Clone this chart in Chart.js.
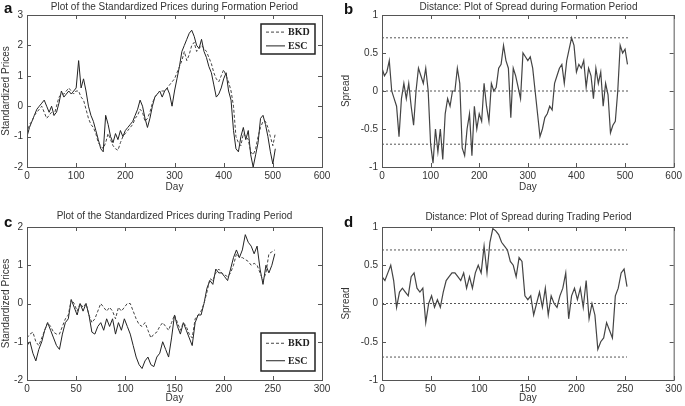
<!DOCTYPE html>
<html>
<head>
<meta charset="utf-8">
<script src="https://cdn.jsdelivr.net/npm/chart.js@4/dist/chart.umd.min.js"></script>
<style>
  html, body { margin: 0; padding: 0; background: #fff; }
  #wrap { position: relative; width: 685px; height: 406px; overflow: hidden; font-family: "Liberation Sans", Arial, sans-serif; }
  canvas { position: absolute; }
  .ttl { position: absolute; font-size: 10px; color: #333; text-align: center; white-space: nowrap; }
  .lt { position: absolute; font-size: 15px; font-weight: bold; color: #111; }
</style>
</head>
<body>
<div id="wrap">
  <canvas id="ca" width="340" height="200" style="left:0;top:0"></canvas>
  <canvas id="cb" width="345" height="200" style="left:340px;top:0"></canvas>
  <canvas id="cc" width="340" height="206" style="left:0;top:200px"></canvas>
  <canvas id="cd" width="345" height="206" style="left:340px;top:200px"></canvas>
  <div class="lt" style="left:4px;top:-1px">a</div>
  <div class="lt" style="left:344px;top:0px">b</div>
  <div class="lt" style="left:4px;top:213px">c</div>
  <div class="lt" style="left:344px;top:213px">d</div>
  <div class="ttl" style="left:27px;width:295px;top:1px">Plot of the Standardized Prices during Formation Period</div>
  <div class="ttl" style="left:382px;width:293px;top:1px">Distance: Plot of Spread during Formation Period</div>
  <div class="ttl" style="left:27px;width:295px;top:210px">Plot of the Standardized Prices during Trading Period</div>
  <div class="ttl" style="left:382px;width:293px;top:211px">Distance: Plot of Spread during Trading Period</div>
</div>
<script>
// sampling days (every 5 days in formation, every 3 days in trading)
const formationDays = Array.from({ length: 102 }, (_, i) => i * 5);
const tradingDays = Array.from({ length: 85 }, (_, i) => i * 3);
const formationEnd = 508;
const tradingEnd = 252;
const thresholds = [0.7, 0, -0.7];
const seriesNames = ['BKD', 'ESC'];

// panel a - standardized prices, formation period
const bkdFormation = [
  -0.9, -0.6, -0.5, -0.3, -0.2, -0.1, 0.0, -0.2, -0.4, -0.3,
  -0.2, -0.3, 0.0, 0.3, 0.4, 0.4, 0.5, 0.6, 0.5, 0.4,
  0.5, 0.5, 0.3, 0.2, -0.1, -0.4, -0.6, -0.7, -0.9, -1.2,
  -1.3, -1.4, -1.2, -0.9, -1.1, -1.3, -1.4, -1.45, -1.2, -1.0,
  -0.9, -0.8, -0.7, -0.6, -0.4, -0.3, -0.1, -0.2, -0.5, -0.4,
  -0.2, 0.1, 0.3, 0.4, 0.5, 0.5, 0.5, 0.6, 0.7, 0.8,
  0.9, 1.1, 1.3, 1.5, 1.8, 1.5, 1.7, 2.0, 2.1, 1.8,
  1.9, 2.0, 1.9, 1.8, 1.6, 1.4, 1.1, 0.9, 0.8, 1.0,
  1.2, 1.0, 0.8, 0.5, 0.0, -1.0, -1.2, -1.3, -0.9, -1.0,
  -1.1, -1.5, -1.6, -1.4, -1.0, -0.7, -0.5, -0.5, -0.7, -1.0,
  -1.3, -0.9
];
const escFormation = [
  -1.0, -0.7, -0.5, -0.3, -0.1, 0.0, 0.1, 0.2, 0.0, -0.2,
  0.0, -0.3, -0.2, 0.1, 0.5, 0.3, 0.4, 0.5, 0.4, 0.5,
  0.6, 1.5, 0.6, 0.9, 0.5, 0.0, -0.3, -0.5, -0.8, -1.1,
  -1.4, -1.5, -0.3, -0.6, -1.0, -1.2, -0.9, -1.1, -0.8, -1.0,
  -0.8, -0.7, -0.6, -0.5, -0.3, -0.1, 0.2, 0.0, -0.4, -0.7,
  -0.4, 0.0, 0.3, 0.4, 0.5, 0.3, 0.5, 0.6, 0.4, 0.0,
  0.5, 0.9, 1.3, 1.8, 2.0, 2.2, 2.4, 2.5, 2.3, 2.0,
  1.9, 2.2, 1.8, 1.6, 1.3, 1.1, 0.7, 0.3, 0.4, 0.6,
  0.9, 1.1, 0.5, 0.2, -0.8, -1.4, -1.5, -1.0, -0.7, -1.1,
  -0.8, -1.6, -2.0, -1.6, -1.2, -0.4, -0.3, -0.6, -1.0, -1.5,
  -1.9, -1.4
];

// panel b - spread, formation period
const spreadFormation = [
  0.3, 0.2, 0.25, 0.4, 0.0, -0.1, -0.2, -0.6, -0.1, 0.1,
  -0.1, 0.1, -0.2, -0.45, 0.0, 0.3, 0.2, 0.1, 0.3, 0.0,
  -0.7, -0.95, -0.5, -0.8, -0.5, -0.9, -0.3, -0.1, -0.2, 0.0,
  0.0, 0.3, 0.1, -0.75, -0.85, -0.5, -0.3, -0.85, -0.2, -0.5,
  -0.3, -0.4, 0.1, -0.2, -0.4, 0.1, 0.0, 0.05, 0.3, 0.35,
  0.6, 0.4, 0.3, -0.35, 0.3, 0.2, 0.05, -0.1, 0.5, 0.45,
  0.4, 0.45, 0.3, 0.0, -0.3, -0.6, -0.5, -0.35, -0.3, -0.2,
  -0.25, 0.1, 0.2, 0.3, 0.35, 0.1, 0.4, 0.55, 0.7, 0.6,
  0.25, 0.35, 0.3, 0.4, 0.05, 0.3, 0.2, -0.1, 0.3, 0.1,
  0.25, -0.2, 0.1, -0.05, -0.55, -0.45, -0.4, 0.0, 0.6, 0.5,
  0.55, 0.35
];

// panel c - standardized prices, trading period
const bkdTrading = [
  -0.9, -0.8, -0.75, -1.0, -1.1, -0.9, -0.7, -0.5, -0.6, -0.75,
  -0.8, -0.8, -0.6, -0.4, -0.3, 0.1, 0.0, -0.2, 0.0, -0.1,
  0.0, -0.3, -0.5, -0.4, -0.2, 0.0, -0.1, -0.2, -0.1, -0.2,
  -0.4, -0.1, -0.2, -0.1, 0.0, 0.0, -0.2, -0.4, -0.55, -0.6,
  -0.5, -0.7, -0.9, -0.8, -0.75, -0.6, -0.5, -0.6, -0.7, -0.5,
  -0.3, -0.5, -0.7, -0.5, -0.6, -0.8, -0.9, -0.4, -0.3, -0.2,
  0.0, 0.3, 0.65, 0.6, 0.8, 0.9, 0.8, 0.75, 0.7, 0.8,
  1.0, 1.3, 1.2, 1.2, 1.15, 1.1, 1.0, 1.05, 1.0, 0.8,
  0.6, 0.8, 1.3, 1.35, 1.4
];
const escTrading = [
  -1.1, -1.0, -1.3, -1.5, -1.2, -1.0, -0.7, -0.5, -0.7, -0.9,
  -1.1, -1.2, -0.8, -0.5, -0.4, 0.1, -0.1, -0.3, 0.0, -0.2,
  0.0, -0.3, -0.75, -0.8, -0.6, -0.5, -0.7, -0.4, -0.6, -0.4,
  -0.8, -0.5, -0.7, -0.4, -0.6, -0.8, -1.1, -1.4, -1.6, -1.7,
  -1.5, -1.4, -1.6, -1.65, -1.4, -1.3, -1.0, -1.2, -1.4, -0.9,
  -0.3, -0.6, -0.8, -0.5, -0.7, -0.9, -1.1, -0.5, -0.3, -0.3,
  0.0, 0.4, 0.6, 0.5, 0.9, 0.8, 0.8, 0.7, 0.6, 0.9,
  1.2, 1.4, 1.2, 1.4, 1.8, 1.6, 1.5, 1.3, 1.5, 0.9,
  0.5, 1.0, 0.8, 1.0, 1.3
];

// panel d - spread, trading period
const spreadTrading = [
  0.35, 0.3, 0.4, 0.5, 0.3, -0.05, 0.15, 0.2, 0.15, 0.1,
  0.35, 0.4, 0.2, 0.15, 0.2, -0.25, 0.0, 0.1, -0.05, 0.05,
  -0.05, 0.15, 0.3, 0.35, 0.4, 0.4, 0.35, 0.3, 0.4, 0.2,
  0.35, 0.2, 0.4, 0.5, 0.4, 0.75, 0.4, 0.8, 0.98, 0.95,
  0.9, 0.8, 0.75, 0.7, 0.55, 0.5, 0.35, 0.6, 0.55, 0.1,
  0.05, 0.1, -0.15, 0.0, 0.15, -0.05, 0.2, -0.15, 0.1, 0.0,
  -0.05, 0.1, 0.2, 0.4, -0.2, 0.1, 0.2, 0.05, 0.2, -0.05,
  0.3, -0.2, 0.0, -0.15, -0.6, -0.5, -0.45, -0.25, -0.35, -0.45,
  0.1, 0.2, 0.4, 0.45, 0.22
];

const FONT = '"Liberation Sans", Arial, sans-serif';
const TEXT = '#333';

function pts(days, vals) {
  return vals.map((v, i) => ({ x: days[i], y: v }));
}

// matlab style box with inward ticks
const boxPlugin = {
  id: 'mbox',
  afterDraw(chart) {
    const { ctx, chartArea: a, scales } = chart;
    ctx.save();
    ctx.strokeStyle = '#555';
    ctx.lineWidth = 1;
    ctx.strokeRect(a.left + 0.5, a.top + 0.5, a.right - a.left, a.bottom - a.top);
    const L = 4;
    ctx.beginPath();
    scales.x.ticks.forEach(t => {
      const px = Math.round(scales.x.getPixelForValue(t.value)) + 0.5;
      ctx.moveTo(px, a.bottom); ctx.lineTo(px, a.bottom - L);
      ctx.moveTo(px, a.top); ctx.lineTo(px, a.top + L);
    });
    scales.y.ticks.forEach(t => {
      const py = Math.round(scales.y.getPixelForValue(t.value)) + 0.5;
      ctx.moveTo(a.left, py); ctx.lineTo(a.left + L, py);
      ctx.moveTo(a.right, py); ctx.lineTo(a.right - L, py);
    });
    ctx.stroke();
    ctx.restore();
  }
};

// legend box drawn inside the plot area
const legendPlugin = {
  id: 'inLegend',
  afterDraw(chart, args, opts) {
    if (!opts || !opts.show) return;
    const { ctx, chartArea: a } = chart;
    const w = 54, h = opts.h;
    const x = a.right - 7 - w;
    const y = opts.pos === 'top' ? a.top + 9 : a.bottom - 9 - h;
    ctx.save();
    ctx.fillStyle = '#fff';
    ctx.fillRect(x, y, w, h);
    ctx.strokeStyle = '#222';
    ctx.lineWidth = 1.5;
    ctx.strokeRect(x, y, w, h);
    ctx.font = 'bold 10px "Liberation Serif", "Times New Roman", serif';
    ctx.textBaseline = 'middle';
    const ds = chart.data.datasets.filter(d => d.legend);
    ds.forEach((d, i) => {
      const cy = y + h * (i === 0 ? 0.27 : 0.73);
      ctx.strokeStyle = d.borderColor;
      ctx.lineWidth = 1;
      ctx.setLineDash(d.borderDash || []);
      ctx.beginPath();
      ctx.moveTo(x + 5, cy); ctx.lineTo(x + 24, cy);
      ctx.stroke();
      ctx.setLineDash([]);
      ctx.fillStyle = '#222';
      ctx.fillText(d.label, x + 27, cy + 0.5);
    });
    ctx.restore();
  }
};

function makeChart(id, o) {
  const canvas = document.getElementById(id);
  new Chart(canvas, {
    type: 'line',
    data: { datasets: o.datasets },
    options: {
      responsive: false,
      animation: false,
      events: [],
      layout: { padding: { top: o.top, right: o.right, left: 0, bottom: 0 } },
      elements: { point: { radius: 0 }, line: { tension: 0 } },
      plugins: {
        legend: { display: false },
        tooltip: { enabled: false },
        inLegend: o.legend || { show: false }
      },
      scales: {
        x: {
          type: 'linear', min: o.xmin, max: o.xmax,
          grid: { display: false, drawTicks: false }, border: { display: false },
          ticks: { stepSize: o.xstep, color: TEXT, font: { family: FONT, size: 10 }, padding: 3, maxRotation: 0, autoSkip: false, callback: v => String(v) },
          title: { display: true, text: 'Day', color: TEXT, font: { family: FONT, size: 10 }, padding: { top: 0, bottom: o.dayPad } },
          afterFit: s => { s.height = o.xh; }
        },
        y: {
          type: 'linear', min: o.ymin, max: o.ymax,
          grid: { display: false, drawTicks: false }, border: { display: false },
          ticks: { stepSize: o.ystep, color: TEXT, font: { family: FONT, size: 10 }, padding: 4, autoSkip: false, callback: v => String(v) },
          title: { display: true, text: o.ylabel, color: TEXT, font: { family: FONT, size: 10 }, padding: { top: 0, bottom: 0 } },
          afterFit: s => { s.width = o.yw; }
        }
      }
    },
    plugins: [boxPlugin, legendPlugin]
  });
}

function thresholdSets(end) {
  return thresholds.map(t => ({
    data: [{ x: 0, y: t }, { x: end, y: t }],
    borderColor: '#555', borderWidth: 1, borderDash: [2, 2]
  }));
}

function priceSets(days, bkd, esc) {
  return [
    { label: seriesNames[0], legend: true, data: pts(days, bkd), borderColor: '#444', borderWidth: 1, borderDash: [3, 2] },
    { label: seriesNames[1], legend: true, data: pts(days, esc), borderColor: '#222', borderWidth: 1 }
  ];
}

makeChart('ca', {
  datasets: priceSets(formationDays, bkdFormation, escFormation),
  top: 15, right: 18, yw: 27, xh: 33, dayPad: 7,
  xmin: 0, xmax: 600, xstep: 100, ymin: -2, ymax: 3, ystep: 1,
  ylabel: 'Standardized Prices', legend: { show: true, pos: 'top', h: 30 }
});

makeChart('cb', {
  datasets: thresholdSets(formationEnd).concat([
    { data: pts(formationDays, spreadFormation), borderColor: '#444', borderWidth: 1.2 }
  ]),
  top: 15, right: 10, yw: 42, xh: 33, dayPad: 7,
  xmin: 0, xmax: 600, xstep: 100, ymin: -1, ymax: 1, ystep: 0.5,
  ylabel: 'Spread'
});

makeChart('cc', {
  datasets: priceSets(tradingDays, bkdTrading, escTrading),
  top: 27, right: 18, yw: 27, xh: 26, dayPad: 2,
  xmin: 0, xmax: 300, xstep: 50, ymin: -2, ymax: 2, ystep: 1,
  ylabel: 'Standardized Prices', legend: { show: true, pos: 'bottom', h: 38 }
});

makeChart('cd', {
  datasets: thresholdSets(tradingEnd).concat([
    { data: pts(tradingDays, spreadTrading), borderColor: '#444', borderWidth: 1.2 }
  ]),
  top: 27, right: 10, yw: 42, xh: 26, dayPad: 2,
  xmin: 0, xmax: 300, xstep: 50, ymin: -1, ymax: 1, ystep: 0.5,
  ylabel: 'Spread'
});
</script>
</body>
</html>
